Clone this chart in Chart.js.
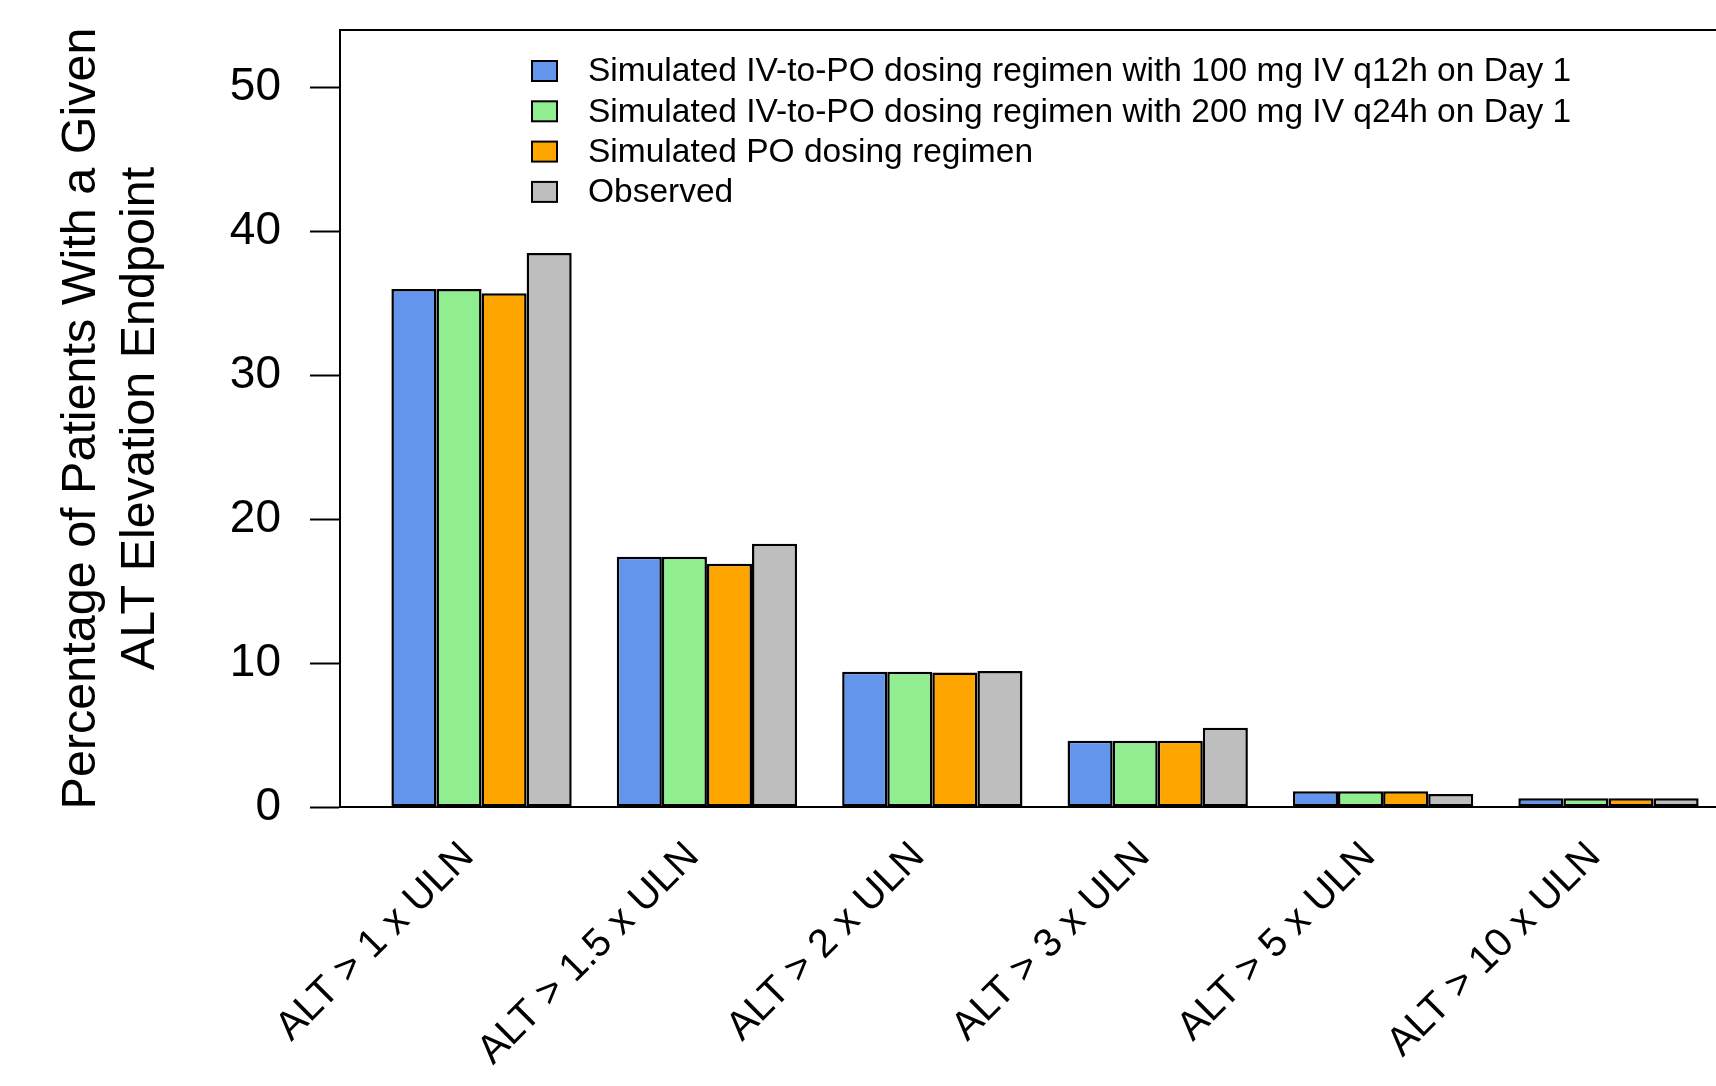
<!DOCTYPE html>
<html>
<head>
<meta charset="utf-8">
<script src="https://cdn.jsdelivr.net/npm/chart.js@4.4.1/dist/chart.umd.min.js"></script>
<style>
  html, body { margin: 0; padding: 0; background: #ffffff; }
  canvas { display: block; }
</style>
</head>
<body>
<canvas id="altChart" width="1716" height="1086"></canvas>
<script>
const categories = ['ALT > 1 x ULN', 'ALT > 1.5 x ULN', 'ALT > 2 x ULN', 'ALT > 3 x ULN', 'ALT > 5 x ULN', 'ALT > 10 x ULN'];
const seriesNames = [
    'Simulated IV-to-PO dosing regimen with 100 mg IV q12h on Day 1',
    'Simulated IV-to-PO dosing regimen with 200 mg IV q24h on Day 1',
    'Simulated PO dosing regimen',
    'Observed'
];
const iv100 = [36.0, 17.4, 9.4, 4.6, 1.1, 0.6];
const iv200 = [36.0, 17.4, 9.4, 4.6, 1.1, 0.6];
const poOnly = [35.7, 16.9, 9.35, 4.6, 1.1, 0.6];
const observed = [38.5, 18.3, 9.45, 5.5, 0.9, 0.6];
const yTicks = [0, 10, 20, 30, 40, 50];
const seriesColors = ['#6495ED', '#90EE90', '#FFA500', '#BEBEBE'];

const FONT = '"Liberation Sans", Arial, sans-serif';

// bars sit on a linear x axis, one group per integer
const toPoints = vals => vals.map((v, i) => ({ x: i, y: v }));

const datasets = [iv100, iv200, poOnly, observed].map((vals, k) => ({
    label: seriesNames[k],
    data: toPoints(vals),
    backgroundColor: seriesColors[k],
    borderColor: '#000000',
    borderWidth: 2.5,
    borderSkipped: false,
    categoryPercentage: 0.8,
    barPercentage: 1.0
}));

// legend and top frame line, drawn like the base R box/legend
const framePlugin = {
    id: 'frame',
    afterDraw(chart) {
        const ctx = chart.ctx;
        const area = chart.chartArea;
        ctx.save();
        ctx.strokeStyle = '#000000';
        ctx.lineWidth = 2;
        ctx.beginPath();
        ctx.moveTo(area.left, area.top);
        ctx.lineTo(chart.width, area.top);
        ctx.stroke();

        ctx.font = '33.5px ' + FONT;
        ctx.textBaseline = 'middle';
        ctx.textAlign = 'left';
        chart.data.datasets.forEach((ds, i) => {
            const cy = 71 + i * 40.3;
            ctx.fillStyle = ds.backgroundColor;
            ctx.fillRect(532, cy - 10, 25, 20);
            ctx.lineWidth = 2;
            ctx.strokeRect(532, cy - 10, 25, 20);
            ctx.fillStyle = '#000000';
            ctx.fillText(ds.label, 588, cy + 1);
        });
        ctx.restore();
    }
};

new Chart(document.getElementById('altChart'), {
    type: 'bar',
    data: { datasets: datasets },
    options: {
        responsive: false,
        animation: false,
        layout: { padding: { top: 30, left: 0, right: 0, bottom: 0 } },
        plugins: {
            legend: { display: false },
            tooltip: { enabled: false }
        },
        scales: {
            x: {
                type: 'linear',
                min: -0.628,
                max: 5.477,
                offset: false,
                grid: { display: false, drawTicks: false },
                border: { display: true, color: '#000000', width: 2 },
                afterBuildTicks: scale => {
                    scale.ticks = categories.map((c, i) => ({ value: i }));
                },
                afterFit: scale => {
                    scale.height = 279;
                    scale.paddingLeft = 0;
                    scale.paddingRight = 0;
                },
                ticks: {
                    autoSkip: false,
                    minRotation: 45,
                    maxRotation: 45,
                    padding: 26,
                    labelOffset: -14,
                    color: '#000000',
                    font: { family: FONT, size: 40 },
                    callback: value => categories[value]
                }
            },
            y: {
                min: 0,
                max: 54,
                afterBuildTicks: scale => {
                    scale.ticks = yTicks.map(v => ({ value: v }));
                },
                afterFit: scale => {
                    scale.width = 340;
                    scale.paddingTop = 0;
                    scale.paddingBottom = 0;
                },
                grid: {
                    drawOnChartArea: false,
                    drawTicks: true,
                    tickLength: 30,
                    tickWidth: 2,
                    color: '#000000'
                },
                border: { display: true, color: '#000000', width: 2 },
                ticks: {
                    padding: 29,
                    color: '#000000',
                    font: { family: FONT, size: 46 }
                },
                title: {
                    display: true,
                    text: ['Percentage of Patients With a Given', 'ALT Elevation Endpoint'],
                    color: '#000000',
                    font: { family: FONT, size: 48.5, lineHeight: 1.2 },
                    padding: { top: 53, bottom: 0 }
                }
            }
        }
    },
    plugins: [framePlugin]
});
</script>
</body>
</html>
